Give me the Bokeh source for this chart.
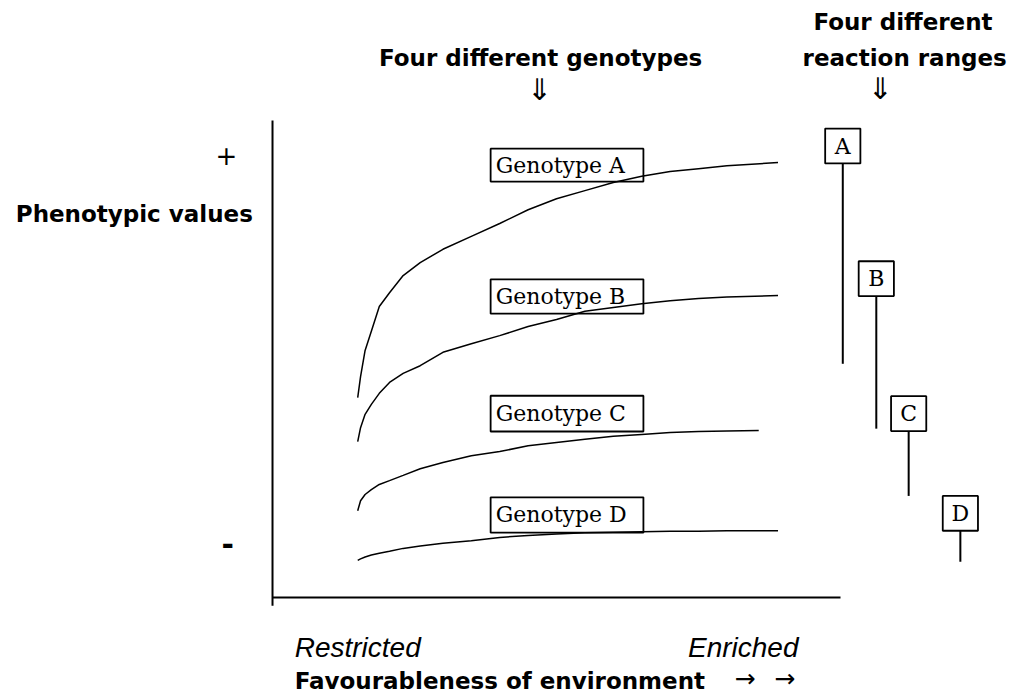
from bokeh.plotting import figure
from bokeh.models import Range1d
from bokeh.core.properties import value
from bokeh.embed import file_html
from bokeh.resources import INLINE

# ---------------- data ----------------
genotypes = ["A", "B", "C", "D"]
environment = [15, 15.5, 16.3, 17.4, 18.8, 20.6, 23, 26, 30, 35, 40, 45, 50, 55, 60, 65, 70, 75, 80, 89]
environment_c = [15, 15.5, 16.3, 17.4, 18.8, 20.6, 23, 26, 30, 35, 40, 45, 50, 55, 60, 65, 70, 75, 80, 85.6]
pheno_a = [41.9, 46.3, 51.8, 55.8, 61.0, 63.9, 67.5, 70.2, 73.0, 75.7, 78.4, 81.3, 83.6, 85.3, 87.0, 88.3, 89.3, 89.9, 90.5, 91.2]
pheno_b = [32.7, 35.6, 38.4, 40.5, 42.8, 45.1, 47.0, 48.6, 51.4, 53.2, 54.9, 56.8, 58.3, 60.0, 60.8, 61.6, 62.2, 62.7, 63.0, 63.3]
pheno_c = [18.2, 20.3, 21.6, 22.6, 23.7, 24.5, 25.6, 27.0, 28.3, 29.7, 30.6, 31.8, 32.5, 33.2, 33.8, 34.2, 34.6, 34.8, 34.9, 35.0]
pheno_d = [7.8, 8.1, 8.5, 8.9, 9.3, 9.7, 10.3, 10.8, 11.4, 11.9, 12.6, 13.0, 13.3, 13.6, 13.7, 13.8, 13.9, 13.9, 14.0, 14.0]
range_low = [49.0, 35.4, 21.3, 7.5]
range_high = [91.0, 63.2, 34.9, 14.0]

# ---------------- layout ----------------
range_x = [100.4, 106.3, 112.0, 121.1]
rbox_half = 3.1
rbox_h = 7.3
lbl_left, lbl_right = 38.4, 65.3
lbl_top = [94.1, 66.7, 42.3, 21.0]
lbl_bottom = [87.2, 59.5, 34.8, 13.6]

p = figure(width=1012, height=696,
           x_range=Range1d(-47.89, 130.28), y_range=Range1d(-20.75, 125.16),
           output_backend="svg", toolbar_location=None, min_border=0,
           x_axis_type=None, y_axis_type=None, outline_line_color=None)
p.grid.visible = False
p.background_fill_color = "white"
p.border_fill_color = "white"

# axes lines
p.segment(x0=[0, 0], y0=[-1.7, 0], x1=[0, 100], y1=[100, 0], line_color="black", line_width=2)

# genotype label boxes
p.quad(left=[lbl_left] * 4, right=[lbl_right] * 4, top=lbl_top, bottom=lbl_bottom,
       fill_color=None, line_color="black", line_width=1.8)
p.text(x=[lbl_left + 0.9] * 4, y=[(t + b) / 2 for t, b in zip(lbl_top, lbl_bottom)],
       text=["Genotype " + g for g in genotypes], text_font=value("DejaVu Serif"),
       text_font_size="22px", text_baseline="middle", text_align="left", text_color="black")

# curves
for xs, ys in [(environment, pheno_a), (environment, pheno_b), (environment_c, pheno_c), (environment, pheno_d)]:
    p.line(xs, ys, line_color="black", line_width=1.5)

# reaction ranges
p.segment(x0=range_x, y0=range_low, x1=range_x, y1=range_high, line_color="black", line_width=2)
p.quad(left=[x - rbox_half for x in range_x], right=[x + rbox_half for x in range_x],
       bottom=range_high, top=[h + rbox_h for h in range_high],
       fill_color="white", line_color="black", line_width=1.8)
p.text(x=range_x, y=[h + rbox_h / 2 for h in range_high], text=genotypes,
       text_font=value("DejaVu Serif"), text_font_size="22px", text_align="center",
       text_baseline="middle", text_color="black")

bold = dict(text_font=value("DejaVu Sans"), text_font_style="bold", text_font_size="23px",
            text_color="black", text_baseline="middle")
p.text(x=[47.2], y=[113.2], text=["Four different genotypes"], text_align="center", **bold)
p.text(x=[111.0, 111.3], y=[120.75, 113.2], text=["Four different", "reaction ranges"],
       text_align="center", **bold)
p.text(x=[-45.2], y=[80.3], text=["Phenotypic values"], text_align="left", **bold)
p.text(x=[3.9], y=[-17.6], text=["Favourableness of environment"], text_align="left", **bold)

p.text(x=[47.0, 107.0], y=[106.4, 106.8], text=["\u21d3", "\u21d3"], text_font=value("DejaVu Sans"),
       text_font_size="30px", text_align="center", text_baseline="middle", text_color="black")
p.text(x=[83.2, 90.2], y=[-16.9, -16.9], text=["\u2192", "\u2192"], text_font=value("DejaVu Sans"),
       text_font_size="25px", text_align="center", text_baseline="middle", text_color="black")

p.text(x=[-8.1], y=[92.7], text=["+"], text_font=value("DejaVu Sans"), text_font_size="26px",
       text_align="center", text_baseline="middle", text_color="black")
p.text(x=[-7.9], y=[11.3], text=["-"], text_font=value("DejaVu Sans"), text_font_style="bold",
       text_font_size="30px", text_align="center", text_baseline="middle", text_color="black")

ital = dict(text_font=value("Liberation Sans"), text_font_style="italic", text_font_size="28px",
            text_color="black", text_baseline="middle")
p.text(x=[3.9], y=[-10.5], text=["Restricted"], text_align="left", **ital)
p.text(x=[92.6], y=[-10.5], text=["Enriched"], text_align="right", **ital)

open("out.html", "w").write(file_html(p, INLINE))
